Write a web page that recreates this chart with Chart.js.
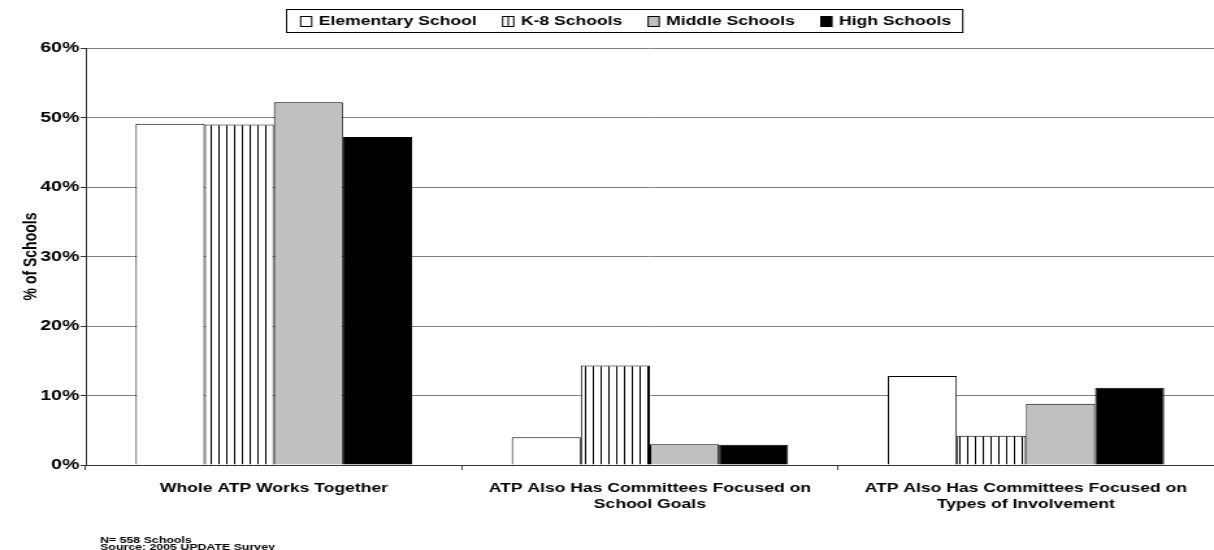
<!DOCTYPE html>
<html>
<head>
<meta charset="utf-8">
<script src="https://cdn.jsdelivr.net/npm/chart.js@4/dist/chart.umd.min.js"></script>
<style>
  body { margin: 0; background: #fff; }
  canvas { display: block; }
</style>
</head>
<body>
<canvas id="myChart" width="934" height="550" style="width:1214px;height:550px"></canvas>
<script>
  // groups along the x axis (multi-line labels)
  const categories = [
    ['Whole ATP Works Together'],
    ['ATP Also Has Committees Focused on', 'School Goals'],
    ['ATP Also Has Committees Focused on', 'Types of Involvement'],
  ];

  // % of schools per school level
  const elementary = [49.1, 4.0, 12.8];
  const k8 = [49.0, 14.3, 4.2];
  const middle = [52.2, 3.0, 8.8];
  const high = [47.2, 2.9, 11.1];

  const yTicks = [0, 10, 20, 30, 40, 50, 60];
  const notes = ['N= 558 Schools', 'Source: 2005 UPDATE Survey'];

  Chart.defaults.font.family = '"Liberation Sans", Arial, sans-serif';
  Chart.defaults.color = '#000';

  // vertical stripes for the K-8 bars
  const pc = document.createElement('canvas');
  pc.width = 6; pc.height = 4;
  const pctx = pc.getContext('2d');
  pctx.fillStyle = '#fff';
  pctx.fillRect(0, 0, 6, 4);
  pctx.fillStyle = '#000';
  pctx.fillRect(0, 0, 1, 4);
  const ctx = document.getElementById('myChart').getContext('2d');
  const stripes = ctx.createPattern(pc, 'repeat');

  // boxed legend on top plus the footnote lines
  const extras = {
    id: 'extras',
    afterDraw(chart) {
      const c = chart.ctx;
      c.save();
      c.font = 'bold 13.5px "Liberation Sans", Arial, sans-serif';
      c.textBaseline = 'middle';
      const boxW = 8.5, boxH = 10, gapBT = 5.4, gap = 20, padL = 10.8, padR = 9;
      const ds = chart.data.datasets;
      const widths = ds.map(d => c.measureText(d.label).width);
      let total = padL + padR + gap * (ds.length - 1);
      widths.forEach(w => total += boxW + gapBT + w);
      const left = Math.round(480 - total / 2) + 0.5;
      const top = 9.5, bottom = 32.5, mid = 21.5;
      c.strokeStyle = '#000';
      c.lineWidth = 1;
      c.strokeRect(left, top, total, bottom - top);
      let x = left + padL;
      ds.forEach((d, i) => {
        c.fillStyle = d.legendFill;
        c.fillRect(x, mid - boxH / 2, boxW, boxH);
        c.strokeRect(x, mid - boxH / 2, boxW, boxH);
        if (d.legendSplit) {
          c.beginPath();
          c.moveTo(x + boxW / 2, mid - boxH / 2);
          c.lineTo(x + boxW / 2, mid + boxH / 2);
          c.stroke();
        }
        c.fillStyle = '#000';
        c.fillText(d.label, x + boxW + gapBT, mid);
        x += boxW + gapBT + widths[i] + gap;
      });
      c.font = 'bold 9.5px "Liberation Sans", Arial, sans-serif';
      c.textBaseline = 'alphabetic';
      c.fillText(notes[0], 77, 543);
      c.fillText(notes[1], 77, 550);
      c.restore();
    }
  };

  const barStyle = { borderColor: '#000', borderWidth: 1, barPercentage: 1, categoryPercentage: 0.735 };

  const data = {
    labels: categories,
    datasets: [
      Object.assign({ label: 'Elementary School', data: elementary, backgroundColor: '#fff', legendFill: '#fff' }, barStyle),
      Object.assign({ label: 'K-8 Schools', data: k8, backgroundColor: stripes, legendFill: '#fff', legendSplit: true }, barStyle),
      Object.assign({ label: 'Middle Schools', data: middle, backgroundColor: '#c0c0c0', legendFill: '#c0c0c0' }, barStyle),
      Object.assign({ label: 'High Schools', data: high, backgroundColor: '#000', legendFill: '#000' }, barStyle),
    ]
  };

  const config = {
    type: 'bar',
    data: data,
    plugins: [extras],
    options: {
      responsive: false,
      animation: false,
      devicePixelRatio: 1,
      layout: { padding: { top: 48, right: 0, left: 0, bottom: 0 } },
      plugins: { legend: { display: false }, tooltip: { enabled: false } },
      scales: {
        x: {
          afterFit(scale) { scale.height = 85; },
          grid: { drawOnChartArea: false, drawTicks: true, tickLength: 5, offset: true, color: '#444' },
          border: { color: '#333', width: 1 },
          ticks: { font: { size: 13.5, weight: 'bold' }, padding: 10, maxRotation: 0, autoSkip: false },
        },
        y: {
          min: 0,
          max: 60,
          afterFit(scale) { scale.width = 66; },
          afterBuildTicks(scale) { scale.ticks = yTicks.map(v => ({ value: v })); },
          grid: { color: '#808080', tickLength: 4, tickColor: '#333' },
          border: { color: '#333', width: 1 },
          ticks: { font: { size: 15, weight: 'bold' }, padding: 1, callback: v => v + '%' },
          title: { display: true, text: '% of Schools', font: { size: 14, weight: 'bold' }, padding: { top: 16, bottom: 0 } },
        }
      }
    }
  };

  const myChart = new Chart(document.getElementById('myChart'), config);
</script>
</body>
</html>
